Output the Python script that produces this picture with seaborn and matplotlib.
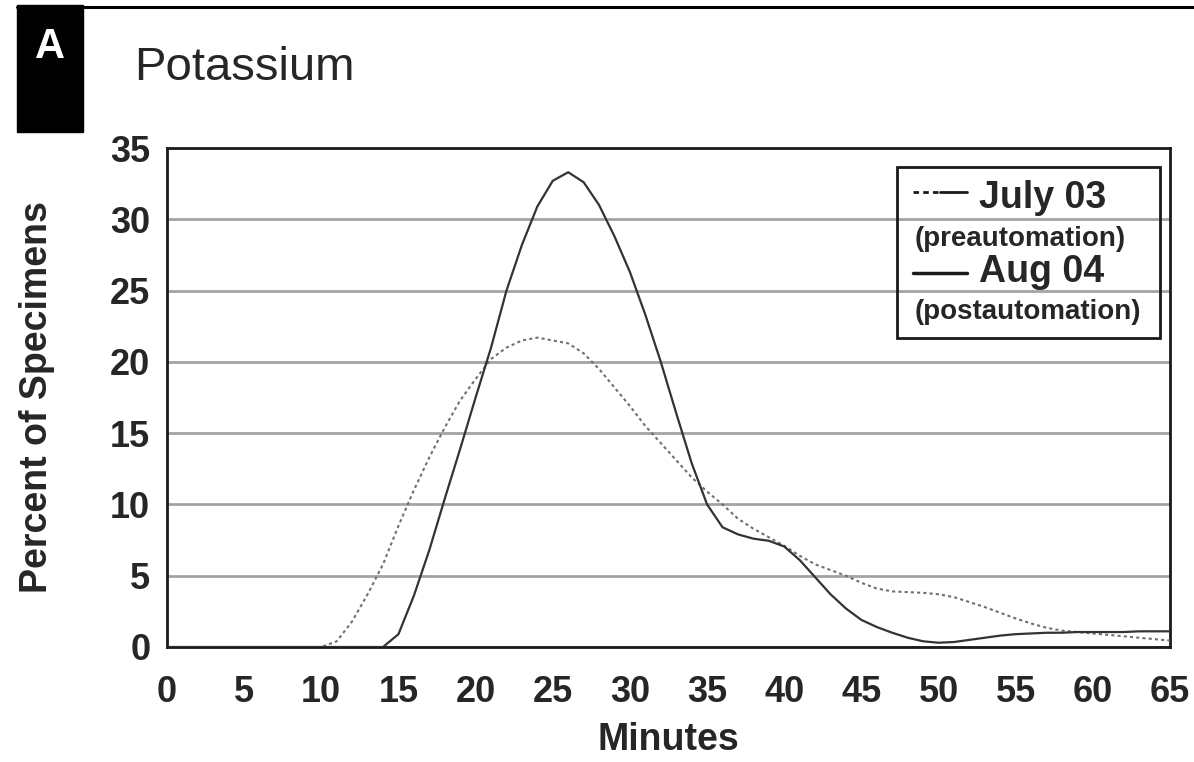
import matplotlib
matplotlib.use("Agg")
import matplotlib.pyplot as plt
from matplotlib.patches import Rectangle
from matplotlib.lines import Line2D
import seaborn as sb

# values, one per minute
minutes = list(range(66))
july03 = [0] * 11 + [0.4, 1.8, 3.7, 5.8, 8.5, 11.0, 13.3, 15.4, 17.3, 18.8,
                     20.2, 21.0, 21.5, 21.7, 21.5, 21.3, 20.6, 19.5, 18.2, 16.9,
                     15.5, 14.3, 13.1, 11.9, 10.9, 10.0, 9.0, 8.3, 7.7, 7.1,
                     6.4, 5.8, 5.4, 5.0, 4.5, 4.1, 3.9, 3.85, 3.8, 3.7,
                     3.5, 3.15, 2.8, 2.4, 2.0, 1.65, 1.35, 1.15, 1.05, 0.95,
                     0.85, 0.75, 0.65, 0.55, 0.45]
aug04 = [0] * 15 + [0.9, 3.6, 6.8, 10.4, 13.9, 17.5, 21.0, 25.0, 28.2, 30.9,
                    32.7, 33.3, 32.6, 31.0, 28.8, 26.3, 23.3, 20.0, 16.4, 12.9,
                    10.0, 8.4, 7.9, 7.6, 7.45, 7.05, 6.1, 4.9, 3.7, 2.7,
                    1.9, 1.4, 1.0, 0.65, 0.4, 0.3, 0.35, 0.5, 0.65, 0.8,
                    0.9, 0.95, 1.0, 1.0, 1.05, 1.05, 1.05, 1.05, 1.1, 1.1, 1.1]
x_ticks = list(range(0, 66, 5))
y_ticks = list(range(0, 36, 5))

sb.set_style("white")
plt.rcParams['font.family'] = ['Liberation Sans', 'DejaVu Sans']

fig = plt.figure(figsize=(11.94, 7.62), dpi=100)
ax = fig.add_axes([167 / 1194, 1 - 647 / 762, 1003 / 1194, 499 / 762])

sb.lineplot(x=minutes, y=july03, ax=ax, color='#707070', linewidth=1.5,
            linestyle=(0, (1.5, 1.5)), zorder=3)
sb.lineplot(x=minutes, y=aug04, ax=ax, color='#333333', linewidth=1.6, zorder=4)

ax.set_xlim(0, 65)
ax.set_ylim(0, 35)
ax.set_xticks(x_ticks)
ax.set_yticks(y_ticks)
ax.yaxis.grid(True, color='#a3a3a3', linewidth=2.0)
ax.set_axisbelow(True)
for s in ax.spines.values():
    s.set_color('#1a1a1a')
    s.set_linewidth(2.0)
ax.tick_params(axis='both', direction='out', length=8, width=2.0, color='#1a1a1a',
               labelsize=26, pad=4)
ax.tick_params(axis='x', pad=12)
for lab in ax.get_xticklabels() + ax.get_yticklabels():
    lab.set_fontweight('bold')

ax.set_xlabel('Minutes', fontsize=27, fontweight='bold', labelpad=9)
ax.set_ylabel('Percent of Specimens', fontsize=27, fontweight='bold', labelpad=40)

# legend box drawn by hand to get the two-size labels
ax.add_patch(Rectangle((0.728, 0.619), 0.262, 0.343, transform=ax.transAxes,
                       fill=False, edgecolor='#1a1a1a', linewidth=2.0, zorder=6))
ax.add_line(Line2D([0.744, 0.771], [0.912, 0.912], transform=ax.transAxes,
                   color='#1a1a1a', linewidth=2.0, linestyle=(0, (2, 1.5)), zorder=6))
ax.add_line(Line2D([0.771, 0.798], [0.912, 0.912], transform=ax.transAxes,
                   color='#1a1a1a', linewidth=2.0, zorder=6))
ax.add_line(Line2D([0.744, 0.798], [0.750, 0.750], transform=ax.transAxes,
                   color='#1a1a1a', linewidth=2.5, zorder=6))
ax.text(0.810, 0.900, 'July 03', transform=ax.transAxes, fontsize=27,
        fontweight='bold', va='center', ha='left', zorder=7)
ax.text(0.745, 0.818, '(preautomation)', transform=ax.transAxes, fontsize=20,
        fontweight='bold', va='center', ha='left', zorder=7)
ax.text(0.810, 0.752, 'Aug 04', transform=ax.transAxes, fontsize=27,
        fontweight='bold', va='center', ha='left', zorder=7)
ax.text(0.745, 0.672, '(postautomation)', transform=ax.transAxes, fontsize=20,
        fontweight='bold', va='center', ha='left', zorder=7)

# panel letter box, rule and title
fig.patches.append(Rectangle((17 / 1194, 1 - 132 / 762), 66 / 1194, 127 / 762,
                             transform=fig.transFigure, color='black'))
fig.lines.append(Line2D([17 / 1194, 1.0], [1 - 6.5 / 762, 1 - 6.5 / 762],
                        transform=fig.transFigure, color='black', linewidth=2.2))
fig.text(50 / 1194, 1 - 47 / 762, 'A', color='white', fontsize=30,
         fontweight='bold', ha='center', va='center')
fig.text(134 / 1194, 1 - 68 / 762, 'Potassium', fontsize=34, ha='left', va='center')

plt.savefig('out.png', dpi=100)
